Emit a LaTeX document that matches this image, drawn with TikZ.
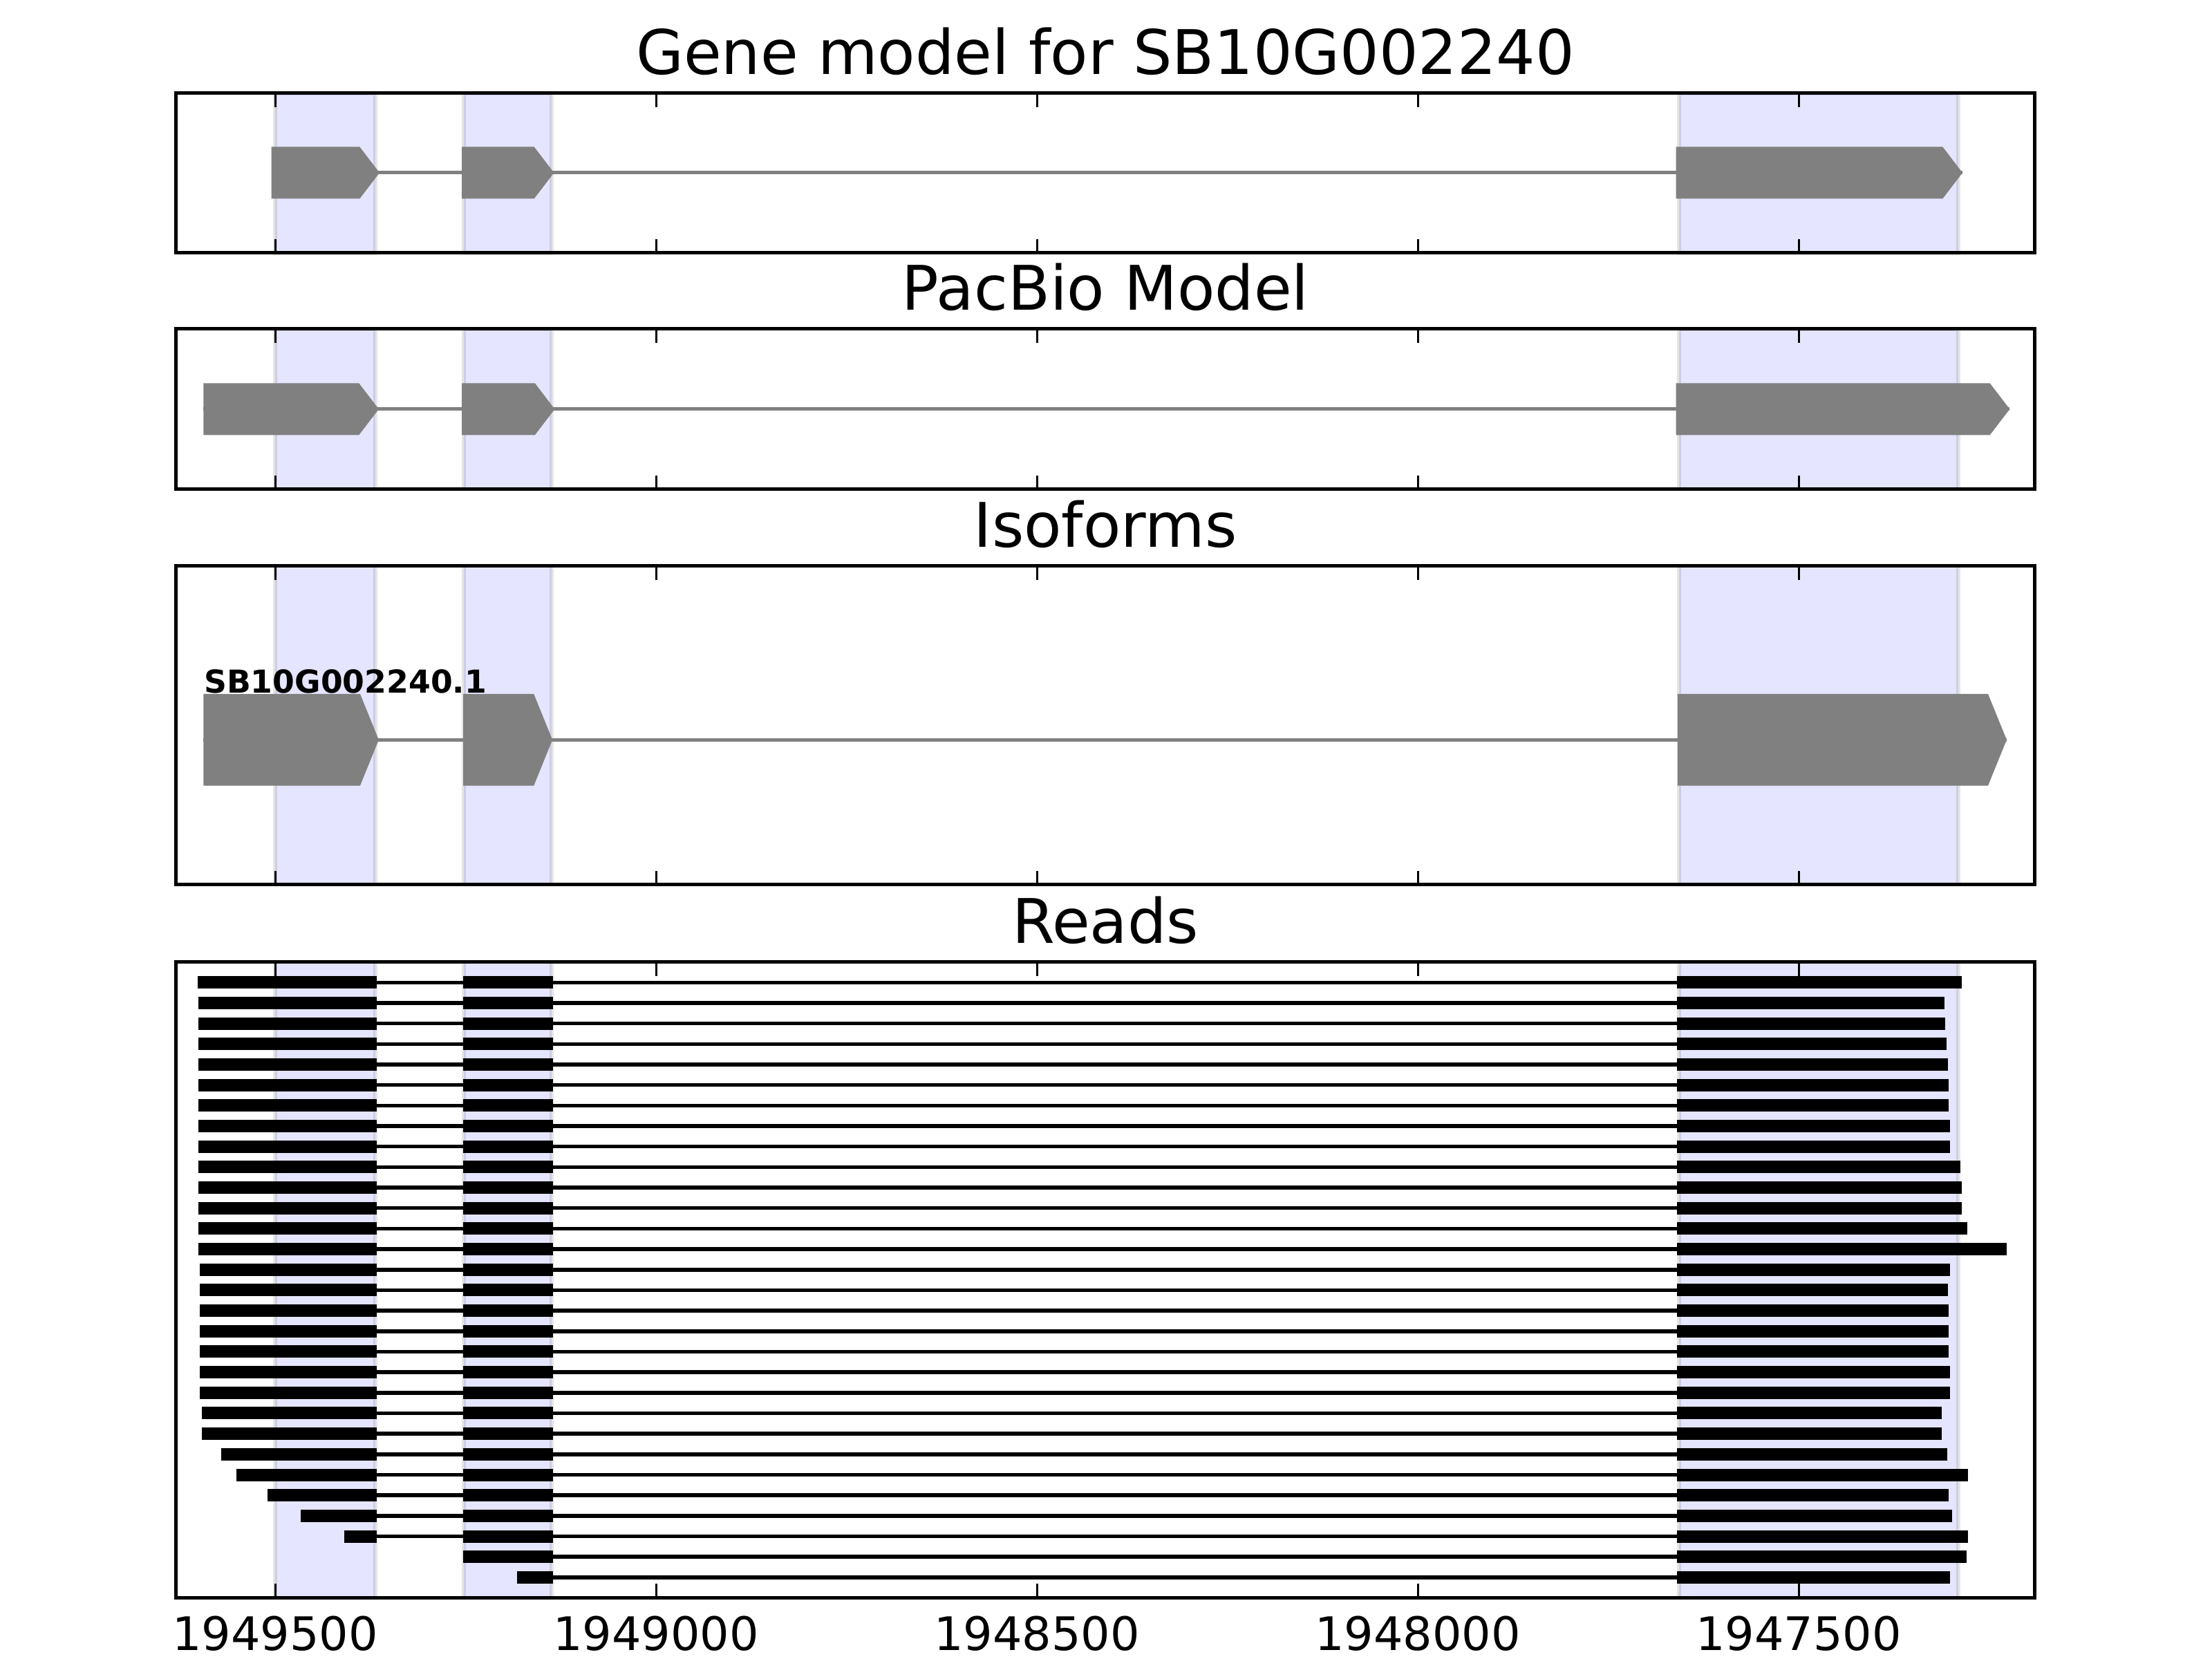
\documentclass[tikz,border=0pt]{standalone}
\usepackage{fontspec}
\setmainfont{DejaVu Sans}
% gene model exon: left, tip, centre y, half height, head length
\newcommand{\gexon}[5]{%
  \fill[exon] (#1,#3-#4) -- (#2-#5,#3-#4) -- (#2,#3) -- (#2-#5,#3+#4) -- (#1,#3+#4) -- cycle;}
\begin{document}
\begin{tikzpicture}[
x=0.01102cm, y=-0.01cm,
band/.style={fill=blue!10, draw=black, draw opacity=0.1, line width=1.5pt},
frame/.style={draw=black, line width=1.42pt},
tickmark/.style={black, line width=0.85pt},
exon/.style={fill=gray},
intron/.style={draw=gray, line width=1.42pt},
readexon/.style={fill=black},
readline/.style={draw=black, line width=1.56pt},
paneltitle/.style={anchor=base, font=\fontsize{25.3}{30}\selectfont},
ticklabel/.style={anchor=base, font=\fontsize{19}{23}\selectfont},
isolabel/.style={anchor=base west, inner sep=0pt, font=\fontsize{13}{15}\selectfont\bfseries}
]
\fill[white] (-361.2,0) rectangle (2542.6,2400);
\useasboundingbox (-361.2,0) rectangle (2542.6,2400);

% exon bands behind every panel
\foreach \top/\bot in {135/366, 476/708, 819/1280, 1392/2312} {
    \filldraw[band] (0,\top) rectangle (131.6,\bot);
    \filldraw[band] (247.7,\top) rectangle (363,\bot);
    \filldraw[band] (1843,\top) rectangle (2209.6,\bot);
}

% gene model
\draw[intron] (-5,250) -- (2215,250);
\gexon{-5}{137}{250}{37.5}{26}
\gexon{245}{366}{250}{37.5}{26}
\gexon{1839}{2215}{250}{37.5}{26}

% pacbio model
\draw[intron] (-94,592) -- (2277,592);
\gexon{-94}{136}{592}{37.5}{26}
\gexon{245}{367}{592}{37.5}{26}
\gexon{1839}{2277}{592}{37.5}{26}

% isoforms
\draw[intron] (-94,1070.5) -- (2273,1070.5);
\gexon{-94}{136}{1070.5}{66.5}{24.5}
\gexon{247}{364}{1070.5}{66.5}{24.5}
\gexon{1841}{2273}{1070.5}{66.5}{24.5}
\node[isolabel] (isoname) at (-94,1003) {SB10G002240.1};

% reads: row/start/end
\foreach \r/\s/\e in {1/-102/2214, 2/-100.4/2191, 3/-100.4/2192, 4/-100.4/2194,
    5/-100.4/2196, 6/-100.4/2197, 7/-100.4/2197, 8/-100.4/2199, 9/-100.4/2199,
    10/-100.4/2212, 11/-100.4/2214, 12/-100.4/2214, 13/-100.4/2221, 14/-100.4/2273,
    15/-99.2/2199, 16/-98.6/2196, 17/-98.8/2197, 18/-98.8/2197, 19/-98.8/2197,
    20/-98.8/2199, 21/-98.8/2199, 22/-96.2/2188, 23/-96.2/2188, 24/-70.4/2195,
    25/-50.6/2222, 26/-9.7/2197, 27/33.2/2201, 28/90.4/2222, 29/244/2220, 30/318/2199} {
    \pgfmathsetmacro{\yy}{1392+29.68*\r}
    \ifdim\s pt<133pt
        \draw[readline] (133,\yy) -- (247,\yy);
        \fill[readexon] (\s,\yy-9) rectangle (133,\yy+9);
    \fi
    \pgfmathsetmacro{\bb}{max(\s,246.5)}
    \draw[readline] (365,\yy) -- (1840,\yy);
    \fill[readexon] (\bb,\yy-9) rectangle (365,\yy+9);
    \fill[readexon] (1840,\yy-9) rectangle (\e,\yy+9);
}

% frames and ticks
\foreach \top/\bot in {135/366, 476/708, 819/1280, 1392/2312} {
    \draw[frame] (-130,\top) rectangle (2310,\bot);
    \foreach \t in {0,500,...,2000} {
        \draw[tickmark] (\t,\top) -- ++(0,20);
        \draw[tickmark] (\t,\bot) -- ++(0,-20);
    }
}

% titles
\node[paneltitle] (titlegene) at (1090,108) {Gene model for SB10G002240};
\node[paneltitle] (titlepacbio) at (1090,449) {PacBio Model};
\node[paneltitle] (titleiso) at (1090,792) {Isoforms};
\node[paneltitle] (titlereads) at (1090,1365) {Reads};

% x axis labels
\foreach \t/\lab in {0/1949500, 500/1949000, 1000/1948500, 1500/1948000, 2000/1947500}
    \node[ticklabel] (tick\t) at (\t,2388) {\lab};
\end{tikzpicture}
\end{document}
